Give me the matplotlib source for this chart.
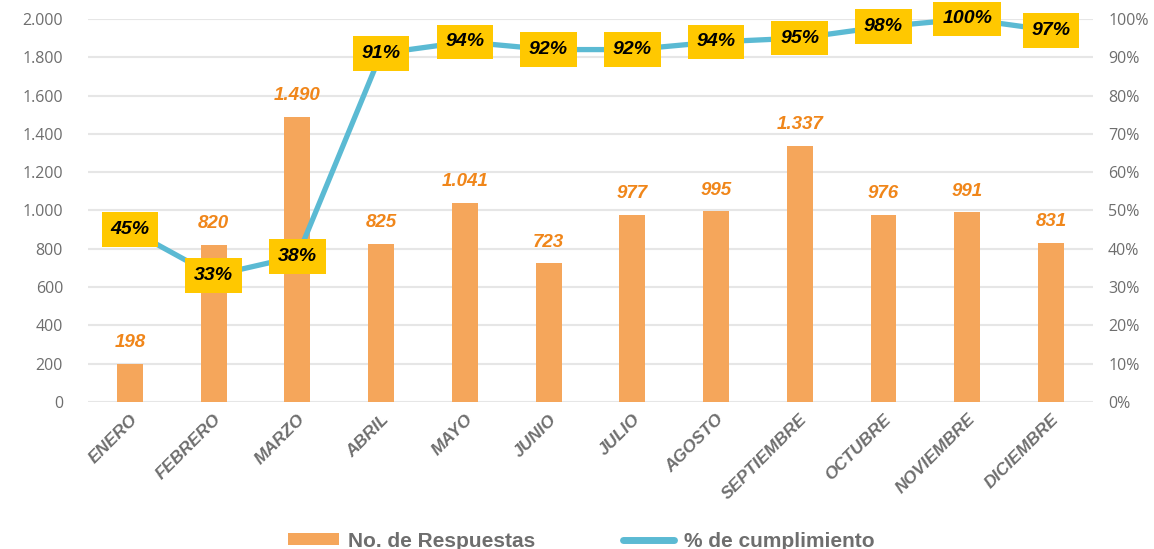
import matplotlib as mpl
import matplotlib.pyplot as plt
from matplotlib.lines import Line2D
from matplotlib.patches import Patch
from matplotlib.ticker import FuncFormatter, MultipleLocator
import numpy as np

mpl.rcParams["font.family"] = ["Liberation Sans", "DejaVu Sans"]

MONTHS = ["ENERO", "FEBRERO", "MARZO", "ABRIL", "MAYO", "JUNIO", "JULIO",
          "AGOSTO", "SEPTIEMBRE", "OCTUBRE", "NOVIEMBRE", "DICIEMBRE"]
RESPUESTAS = [198, 820, 1490, 825, 1041, 723, 977, 995, 1337, 976, 991, 831]
CUMPLIMIENTO = [45, 33, 38, 91, 94, 92, 92, 94, 95, 98, 100, 97]

BAR_C = "#F5A65B"
LINE_C = "#5BBAD3"
LABEL_C = "#F0861A"
BOX_C = "#FFC800"
GRAY = "#6E6E6E"


def miles(v, _pos):
    return f"{int(v):,}".replace(",", ".")


fig = plt.figure(figsize=(11.54, 5.49), dpi=100)
ax = fig.add_axes([0.0763, 0.268, 0.8707, 0.6975])
ax2 = ax.twinx()

x = np.arange(len(MONTHS))
ax.bar(x, RESPUESTAS, width=0.31, color=BAR_C, zorder=2)
ax.set_ylim(0, 2000)
ax.set_xlim(-0.5, len(MONTHS) - 0.5)
ax.yaxis.set_major_locator(MultipleLocator(200))
ax.yaxis.set_major_formatter(FuncFormatter(miles))
ax.grid(axis="y", color="#E6E6E6", lw=1.5, zorder=0)
ax.set_axisbelow(True)

for xi, v in zip(x, RESPUESTAS):
    ax.annotate(miles(v, None), (xi, v), xytext=(0, 9), textcoords="offset points",
                ha="center", va="bottom", color=LABEL_C, fontsize=13.5,
                fontweight="bold", fontstyle="italic")

ax2.plot(x, [p / 100 for p in CUMPLIMIENTO], color=LINE_C, lw=3.8,
         solid_capstyle="round", zorder=3)
for xi, p in zip(x, CUMPLIMIENTO):
    ax2.text(xi, p / 100, f"{p}%", ha="center", va="center", fontsize=14,
             fontweight="bold", fontstyle="italic", color="black", zorder=4,
             bbox=dict(boxstyle="square,pad=0.45", fc=BOX_C, ec="none"))
ax2.set_ylim(0, 1.0)
ax2.yaxis.set_major_locator(MultipleLocator(0.1))
ax2.yaxis.set_major_formatter(FuncFormatter(lambda v, _p: f"{v * 100:.0f}%"))

ax.set_xticks(x)
ax.set_xticklabels(MONTHS, rotation=45, ha="right", rotation_mode="anchor",
                   fontsize=12.5, fontweight="bold", fontstyle="italic", color=GRAY)

for a in (ax, ax2):
    for s in a.spines.values():
        s.set_visible(False)
    a.tick_params(length=0, labelsize=11.5, labelcolor=GRAY)
ax.tick_params(axis="y", pad=18)
ax.tick_params(axis="x", pad=7)
ax2.tick_params(axis="y", pad=11)
for t in ax.get_yticklabels() + ax2.get_yticklabels():
    t.set_fontfamily(["Open Sans", "DejaVu Sans"])
for t in ax.get_xticklabels():
    t.set_fontsize(12.5)

handles = [Patch(facecolor=BAR_C, edgecolor="none", label="No. de Respuestas"),
           Line2D([0], [0], color=LINE_C, lw=5, solid_capstyle="round",
                  label="% de cumplimiento")]
leg = fig.legend(handles=handles, loc="lower center", bbox_to_anchor=(0.5035, -0.037),
                 ncol=2, frameon=False, columnspacing=4.2, handlelength=2.45,
                 handleheight=0.55, handletextpad=0.45,
                 prop=dict(size=15, weight="bold"))
for t in leg.get_texts():
    t.set_color(GRAY)

fig.savefig("out.png", dpi=100)
